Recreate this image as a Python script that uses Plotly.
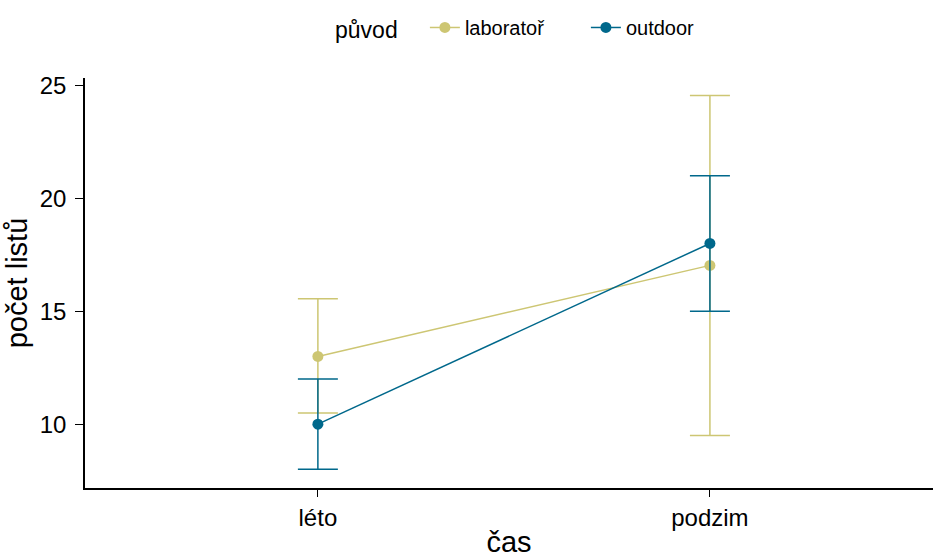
import plotly.graph_objects as go

categories = ["léto", "podzim"]
groups = ["laboratoř", "outdoor"]
lab_mean = [13.0, 17.03]
lab_low = [10.5, 9.5]
lab_high = [15.55, 24.55]
out_mean = [10.0, 18.0]
out_low = [8.0, 15.0]
out_high = [12.0, 21.0]
colors = ["#CDC673", "#00688B"]

fig = go.Figure()
for name, m, lo, hi, c in [
    (groups[0], lab_mean, lab_low, lab_high, colors[0]),
    (groups[1], out_mean, out_low, out_high, colors[1]),
]:
    fig.add_trace(go.Scatter(
        x=[0, 1], y=m, name=name, mode="lines+markers",
        line=dict(color=c, width=1.5),
        marker=dict(color=c, size=11),
        error_y=dict(type="data", symmetric=False,
                     array=[h - v for h, v in zip(hi, m)],
                     arrayminus=[v - l for v, l in zip(m, lo)],
                     color=c, thickness=1.5, width=20),
    ))

font = "Liberation Sans, Arial, sans-serif"
fig.update_layout(
    width=933, height=558,
    margin=dict(l=85, r=0, t=78, b=70),
    plot_bgcolor="white", paper_bgcolor="white",
    font=dict(family=font, color="black"),
    showlegend=True,
    legend=dict(orientation="h", x=0.2925, xanchor="left", y=1.122, yanchor="middle",
                title=dict(text="původ   ", font=dict(size=23)),
                font=dict(size=20), itemwidth=30, entrywidth=116),
    xaxis=dict(
        range=[-0.594, 1.569], tickmode="array", tickvals=[0, 1], ticktext=categories,
        showline=True, linecolor="black", linewidth=1.5, showgrid=False, zeroline=False,
        ticks="outside", ticklen=7, tickcolor="black", tickwidth=1.2,
        tickfont=dict(size=24, color="black"),
        title=dict(text="čas", font=dict(size=29), standoff=4),
    ),
    yaxis=dict(
        range=[7.175, 25.325], tickvals=[10, 15, 20, 25],
        showline=True, linecolor="black", linewidth=1.5, showgrid=False, zeroline=False,
        ticks="outside", ticklen=8, tickcolor="black", tickwidth=1.2, ticklabelstandoff=4,
        tickfont=dict(size=24, color="black"),
        title=dict(text="počet listů", font=dict(size=29), standoff=4),
    ),
)
fig.write_html("out.html", config={"displayModeBar": False},
               post_script="document.body.style.margin='0';")
